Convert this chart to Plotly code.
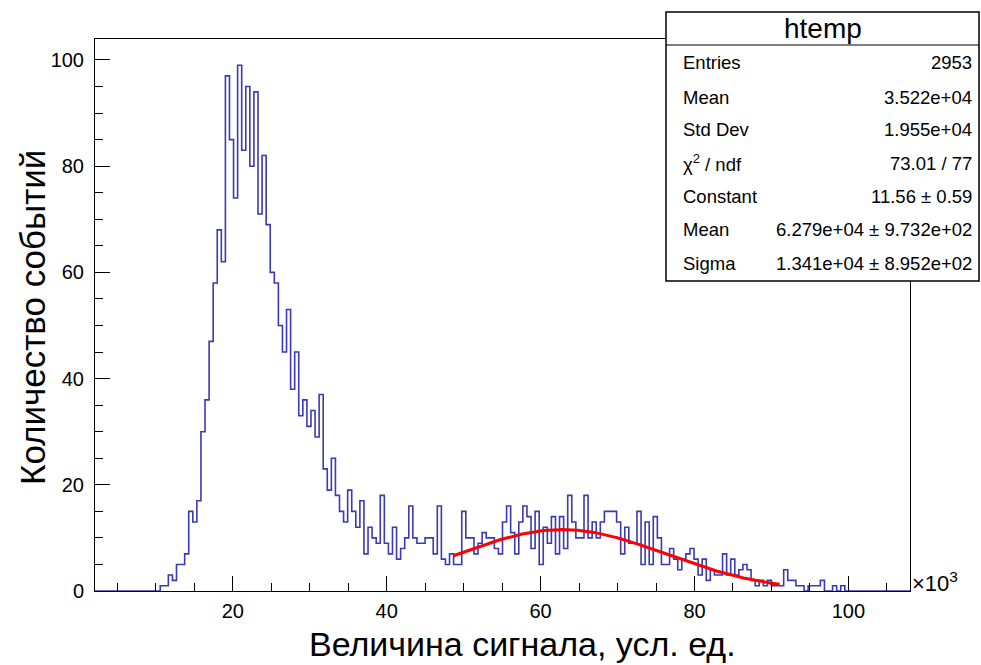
import numpy as np
import plotly.graph_objects as go

# ---- data (units: x10^3) ----
X_MIN = 2.1
X_MAX = 108.0
N_BINS = 200
FIRST_BIN = 16
counts = [
    1, 1, 3, 2, 5, 5, 7, 15, 13, 17, 30, 36, 47, 58, 68, 62, 97, 85, 74, 99,
    83, 95, 80, 94, 71, 82, 69,
    60, 58, 50, 45, 53, 38, 45, 33, 36, 31, 34, 29, 37, 23, 19, 25, 18, 15,
    13, 19, 15, 12, 17, 7, 12, 10,
    9, 18, 9, 7, 12, 6, 8, 10, 16, 10, 9, 9, 10, 10, 7, 16, 6, 5, 7, 5, 5,
    15, 10, 10, 7, 9, 11,
    10, 10, 8, 7, 13, 16, 11, 7, 13, 16, 14, 8, 15, 5, 12, 9, 14, 7, 14, 8,
    18, 13, 10, 10, 18, 10, 13, 10, 13,
    15, 15, 15, 13, 7, 12, 9, 9, 15, 5, 13, 5, 14, 10, 5, 5, 8, 6, 4, 6, 7,
    8, 6, 3, 6, 2, 4, 3,
    3, 7, 3, 6, 3, 4, 5, 4, 2, 1, 2, 1, 2, 1, 1, 1, 4, 2, 2, 1, 1, 0, 1, 1,
    1, 2, 0, 0, 1, 0, 1,
]
fit_const = 11.56
fit_mean = 62.79
fit_sigma = 13.41
fit_lo = 48.65
fit_hi = 91.06

stat_labels = ["Entries", "Mean", "Std Dev", "χ<sup>2</sup> / ndf", "Constant", "Mean", "Sigma"]
stat_values = ["2953", "3.522e+04", "1.955e+04", "73.01 / 77", "11.56 ± 0.59",
               "6.279e+04 ± 9.732e+02", "1.341e+04 ± 8.952e+02"]

x_title = "Величина сигнала, усл. ед."
y_title = "Количество событий"

# ---- build histogram outline ----
bw = (X_MAX - X_MIN) / N_BINS
full = np.zeros(N_BINS)
full[FIRST_BIN:FIRST_BIN + len(counts)] = counts
edges = X_MIN + bw * np.arange(N_BINS + 1)
hx = np.concatenate([[edges[0]], edges, [edges[-1]]])
hy = np.concatenate([[0], full, [full[-1]]])

fx = np.linspace(fit_lo, fit_hi, 200)
fy = fit_const * np.exp(-0.5 * ((fx - fit_mean) / fit_sigma) ** 2)

FONT = "Liberation Sans, Arial, Helvetica, sans-serif"

fig = go.Figure()
fig.add_trace(go.Scatter(x=hx, y=hy, mode="lines", line=dict(color="#3a3ab4", width=1.6, shape="hv"),
                         hoverinfo="skip", showlegend=False))
fig.add_trace(go.Scatter(x=fx, y=fy, mode="lines", line=dict(color="#ff0000", width=3),
                         hoverinfo="skip", showlegend=False))

L, R, T, B = 95, 71, 39, 74
W, H = 981, 665
pw = W - L - R
ph = H - T - B

def px(x):
    return (x - L) / pw

def py(y):
    return (H - B - y) / ph

axis_common = dict(showgrid=False, zeroline=False, showline=True, linecolor="black", linewidth=1,
                   mirror=True, ticks="inside", ticklen=15, tickwidth=1, tickcolor="black",
                   tickfont=dict(family=FONT, size=20, color="black"))
fig.update_xaxes(range=[X_MIN, X_MAX], tick0=0, dtick=20,
                 minor=dict(ticks="inside", ticklen=8, dtick=5, tick0=0, tickcolor="black"),
                 ticklabelstandoff=2, **axis_common)
fig.update_yaxes(range=[0, 103.95], tick0=0, dtick=20,
                 minor=dict(ticks="inside", ticklen=8, dtick=5, tick0=0, tickcolor="black"),
                 ticklabelstandoff=6, **axis_common)

shapes = []
# stats box
bx0, bx1, by0, by1 = 666, 979, 12, 281
shapes.append(dict(type="rect", xref="paper", yref="paper", x0=px(bx0), x1=px(bx1), y0=py(by1), y1=py(by0),
                   line=dict(color="black", width=1.5), fillcolor="white", layer="above"))
shapes.append(dict(type="line", xref="paper", yref="paper", x0=px(bx0), x1=px(bx1), y0=py(45), y1=py(45),
                   line=dict(color="black", width=1.2), layer="above"))

ann = []
ann.append(dict(text="htemp", x=px((bx0 + bx1) / 2), y=py(29), xref="paper", yref="paper",
                showarrow=False, font=dict(family=FONT, size=28, color="black"), xanchor="center", yanchor="middle"))
row_y = [63, 97, 130, 163, 196, 229, 263]
for lab, val, ry in zip(stat_labels, stat_values, row_y):
    ann.append(dict(text=lab, x=px(681), y=py(ry), xref="paper", yref="paper", showarrow=False,
                    font=dict(family=FONT, size=18.5, color="black"), xanchor="left", yanchor="middle"))
    ann.append(dict(text=val, x=px(974), y=py(ry), xref="paper", yref="paper", showarrow=False,
                    font=dict(family=FONT, size=18.5, color="black"), xanchor="right", yanchor="middle"))

ann.append(dict(text=x_title, x=px(522), y=py(644), xref="paper", yref="paper", showarrow=False,
                font=dict(family=FONT, size=34, color="black"), xanchor="center", yanchor="middle"))
ann.append(dict(text=y_title, x=px(32), y=py(318), xref="paper", yref="paper", showarrow=False, textangle=-90,
                font=dict(family=FONT, size=35, color="black"), xanchor="center", yanchor="middle"))
ann.append(dict(text="×10<sup>3</sup>", x=px(910), y=py(582), xref="paper", yref="paper", showarrow=False,
                font=dict(family=FONT, size=22, color="black"), xanchor="left", yanchor="middle"))

fig.update_layout(width=W, height=H, autosize=False, margin=dict(l=L, r=R, t=T, b=B),
                  plot_bgcolor="white", paper_bgcolor="white", shapes=shapes, annotations=ann,
                  showlegend=False)

fig.write_html("out.html")
